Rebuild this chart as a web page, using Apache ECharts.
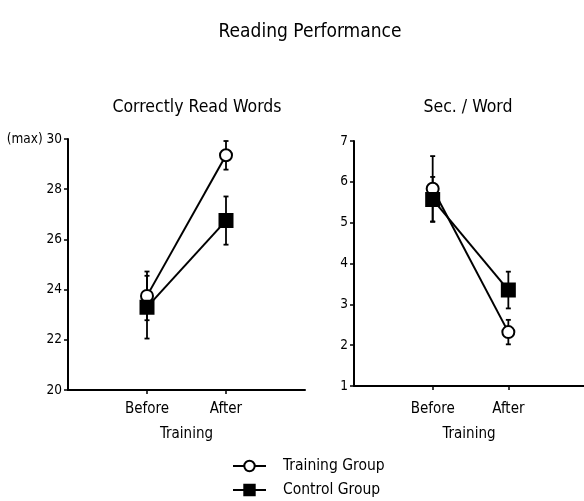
<!DOCTYPE html>
<html><head><meta charset="utf-8">
<script src="https://cdn.jsdelivr.net/npm/echarts@6/dist/echarts.min.js"></script>
<style>html,body{margin:0;padding:0;background:#fff}#c{width:584px;height:501px}</style>
</head><body><div id="c"></div><script>
const categories = ['Before', 'After'];
const seriesNames = ['Training Group', 'Control Group'];
// Correctly Read Words
const wordsTraining = [23.75, 29.35];
const wordsTrainingErr = [0.97, 0.57];
const wordsControl = [23.3, 26.75];
const wordsControlErr = [1.25, 0.96];
// Sec. / Word
const secTraining = [5.83, 2.32];
const secTrainingErr = [0.8, 0.3];
const secControl = [5.57, 3.35];
const secControlErr = [0.55, 0.45];
const wordsTicks = [20, 22, 24, 26, 28, 30];
const secTicks = [1, 2, 3, 4, 5, 6, 7];

const FONT = "'DejaVu Sans Condensed', 'Liberation Sans', sans-serif";
const chart = echarts.init(document.getElementById('c'), null, {renderer: 'canvas'});

function pts(vals) { return vals.map((v, i) => [i + 1, v]); }
function errs(vals, e) { return vals.map((v, i) => [i + 1, v - e[i], v + e[i]]); }
const catPos = categories.map((c, i) => i + 1);

function errRender(params, api) {
  const x = api.value(0), lo = api.value(1), hi = api.value(2);
  const p1 = api.coord([x, hi]), p2 = api.coord([x, lo]);
  const w = 2.5;
  const st = {stroke: '#000', lineWidth: 1.8};
  return {type: 'group', children: [
    {type: 'line', shape: {x1: p1[0], y1: p1[1], x2: p2[0], y2: p2[1]}, style: st},
    {type: 'line', shape: {x1: p1[0] - w, y1: p1[1], x2: p1[0] + w, y2: p1[1]}, style: st},
    {type: 'line', shape: {x1: p2[0] - w, y1: p2[1], x2: p2[0] + w, y2: p2[1]}, style: st}
  ]};
}

function xAxis(gi, min, margin, nameGap) {
  return {
    gridIndex: gi, type: 'value', min: min, max: 3,
    name: 'Training', nameLocation: 'middle', nameGap: nameGap,
    nameTextStyle: {fontFamily: FONT, fontSize: 15, color: '#000'},
    axisLine: {onZero: false, lineStyle: {color: '#000', width: 2}},
    axisTick: {show: true, length: 4, customValues: catPos, lineStyle: {color: '#000', width: 1.5}},
    splitLine: {show: false},
    axisLabel: {
      margin: margin, fontFamily: FONT, fontSize: 15, color: '#000', customValues: catPos,
      formatter: v => categories[Math.round(v) - 1] || ''
    }
  };
}
function yAxis(gi, ticks, fmt) {
  return {
    gridIndex: gi, type: 'value', min: ticks[0], max: ticks[ticks.length - 1],
    interval: ticks[1] - ticks[0],
    axisLine: {show: true, onZero: false, lineStyle: {color: '#000', width: 2}},
    axisTick: {show: true, length: 4, lineStyle: {color: '#000', width: 1.5}},
    splitLine: {show: false},
    axisLabel: {margin: 6, fontFamily: FONT, fontSize: 13.5, color: '#000', formatter: fmt}
  };
}

function lineSeries(name, gi, data, isCircle) {
  return {
    name: name, type: 'line', xAxisIndex: gi, yAxisIndex: gi, data: data, z: 3,
    symbol: isCircle ? 'circle' : 'rect', symbolSize: isCircle ? 12 : 13,
    lineStyle: {color: '#000', width: 2},
    itemStyle: {color: isCircle ? '#fff' : '#000', borderColor: '#000', borderWidth: 2},
    emphasis: {disabled: true}, animation: false
  };
}
function errSeries(gi, data) {
  return {
    type: 'custom', xAxisIndex: gi, yAxisIndex: gi, data: data, z: 2,
    renderItem: errRender, encode: {x: 0, y: [1, 2]}, animation: false, silent: true
  };
}

chart.setOption({
  animation: false,
  backgroundColor: '#fff',
  title: [
    {text: 'Reading Performance', left: 305, top: 18, textAlign: 'center',
     textStyle: {fontFamily: FONT, fontSize: 19, fontWeight: 'normal', color: '#000'}},
    {text: 'Correctly Read Words', left: 192, top: 93, textAlign: 'center',
     textStyle: {fontFamily: FONT, fontSize: 17.5, fontWeight: 'normal', color: '#000'}},
    {text: 'Sec. / Word', left: 463, top: 93, textAlign: 'center',
     textStyle: {fontFamily: FONT, fontSize: 17.5, fontWeight: 'normal', color: '#000'}}
  ],
  legend: {
    orient: 'vertical', left: 232, top: 458, padding: 0, height: 43,
    itemWidth: 33, itemHeight: 13, itemGap: 8,
    data: seriesNames,
    textStyle: {fontFamily: FONT, fontSize: 15.5, color: '#000', padding: [0, 0, 0, 12]},
    selectedMode: false
  },
  grid: [
    {left: 68, top: 139, width: 237, height: 251},
    {left: 354, top: 141, width: 237, height: 245}
  ],
  xAxis: [xAxis(0, 0, 12, 37), xAxis(1, -0.04, 16, 41)],
  yAxis: [
    yAxis(0, wordsTicks, v => v === 30 ? '(max) 30' : String(v)),
    yAxis(1, secTicks, v => String(v))
  ],
  series: [
    errSeries(0, errs(wordsTraining, wordsTrainingErr)),
    errSeries(0, errs(wordsControl, wordsControlErr)),
    lineSeries(seriesNames[0], 0, pts(wordsTraining), true),
    lineSeries(seriesNames[1], 0, pts(wordsControl), false),
    errSeries(1, errs(secTraining, secTrainingErr)),
    errSeries(1, errs(secControl, secControlErr)),
    lineSeries(seriesNames[0], 1, pts(secTraining), true),
    lineSeries(seriesNames[1], 1, pts(secControl), false)
  ]
});
</script></body></html>
